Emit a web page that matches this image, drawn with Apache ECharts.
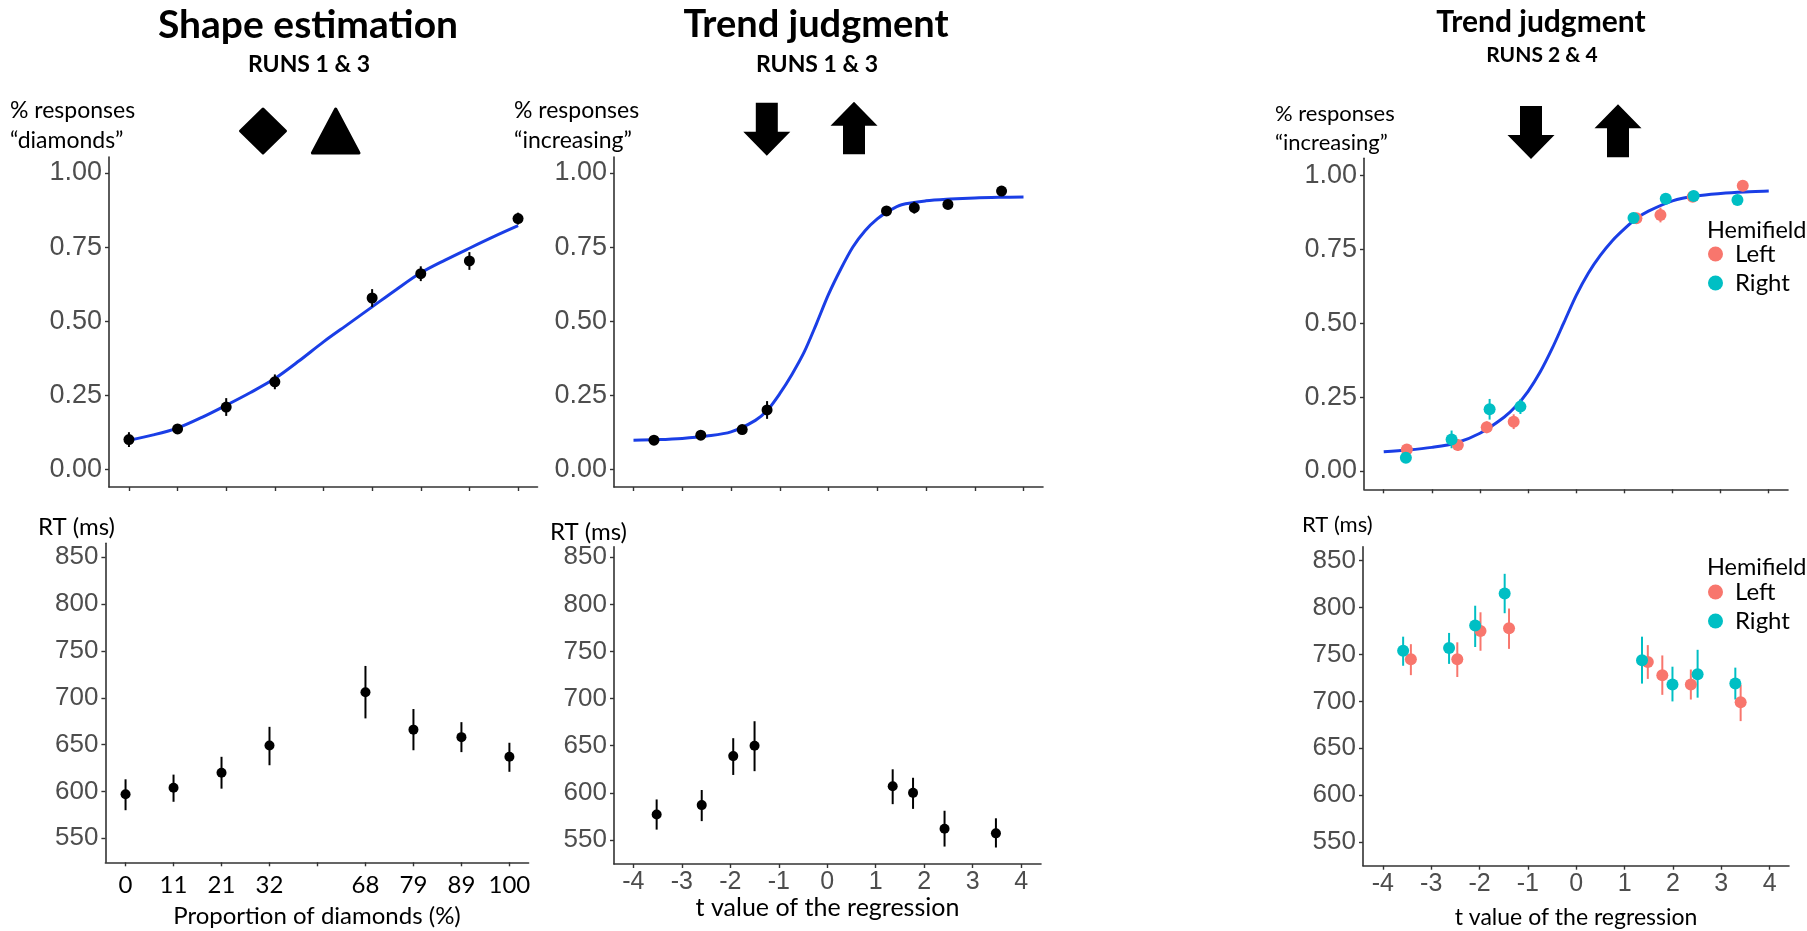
<!DOCTYPE html>
<html>
<head>
<meta charset="utf-8">
<script src="https://cdn.jsdelivr.net/npm/echarts@6.0.0/dist/echarts.min.js"></script>
<style>
html,body{margin:0;padding:0;background:#fff;}
#chart{width:1807px;height:931px;}
</style>
</head>
<body>
<div id="chart"></div>
<script>
// ---------- DATA ----------
// Panel 1: Shape estimation (runs 1 & 3)
const shapeCats = ['0', '11', '21', '32', '', '68', '79', '89', '100'];
const shapeIdx = [0, 1, 2, 3, 5, 6, 7, 8];
const shapeProp = [0.100, 0.136, 0.210, 0.295, 0.578, 0.660, 0.703, 0.846];
const shapePropErr = [0.025, 0.012, 0.030, 0.025, 0.030, 0.025, 0.030, 0.020];
const shapeFitX = [0, 0.5, 1, 1.5, 2, 2.5, 3, 3.5, 4, 4.5, 5, 5.5, 6, 6.5, 7, 7.5, 8];
const shapeFitY = [0.098, 0.116, 0.139, 0.175, 0.216, 0.259, 0.306, 0.366, 0.430, 0.489, 0.548, 0.607, 0.663, 0.706, 0.746, 0.785, 0.822];
const shapeRT = [597, 604, 620, 649, 706, 666, 658, 637];
const shapeRTLow = [580, 589, 603, 628, 678, 644, 642, 621];
const shapeRTHigh = [613, 618, 637, 669, 734, 688, 674, 652];

// Panel 2: Trend judgment (runs 1 & 3)
const trendPropT = [-3.58, -2.62, -1.77, -1.26, 1.19, 1.76, 2.45, 3.55];
const trendProp = [0.098, 0.115, 0.134, 0.200, 0.872, 0.883, 0.894, 0.939];
const trendPropErr = [0.010, 0.015, 0.012, 0.030, 0.015, 0.020, 0.012, 0.012];
const trendFitX = [-4, -3.5, -3, -2.5, -2, -1.5, -1.25, -1, -0.75, -0.5, -0.25, 0, 0.25, 0.5, 0.75, 1, 1.25, 1.5, 2, 2.5, 3, 3.5, 4];
const trendFitY = [0.098, 0.100, 0.104, 0.112, 0.126, 0.165, 0.200, 0.255, 0.320, 0.395, 0.490, 0.590, 0.675, 0.750, 0.805, 0.845, 0.873, 0.893, 0.906, 0.912, 0.916, 0.918, 0.919];
const trendRTT = [-3.52, -2.59, -1.94, -1.50, 1.35, 1.77, 2.42, 3.48];
const trendRT = [577, 587, 639, 650, 607, 600, 562, 557];
const trendRTLow = [561, 570, 619, 623, 588, 583, 543, 542];
const trendRTHigh = [593, 603, 658, 676, 625, 616, 581, 573];

// Panel 3: Trend judgment (runs 2 & 4), by hemifield
const hemiFitX = [-4, -3.5, -3, -2.5, -2, -1.5, -1.25, -1, -0.75, -0.5, -0.25, 0, 0.25, 0.5, 0.75, 1, 1.25, 1.5, 2, 2.5, 3, 3.5, 4];
const hemiFitY = [0.065, 0.071, 0.080, 0.095, 0.128, 0.182, 0.220, 0.270, 0.335, 0.415, 0.505, 0.595, 0.670, 0.730, 0.780, 0.820, 0.855, 0.880, 0.915, 0.932, 0.940, 0.945, 0.948];
const leftPropT = [-3.52, -2.46, -1.86, -1.30, 1.25, 1.75, 2.42, 3.46];
const leftProp = [0.073, 0.088, 0.148, 0.167, 0.856, 0.867, 0.929, 0.966];
const leftPropErr = [0.012, 0.020, 0.020, 0.025, 0.012, 0.025, 0.012, 0.010];
const rightPropT = [-3.54, -2.59, -1.80, -1.16, 1.19, 1.86, 2.44, 3.35];
const rightProp = [0.045, 0.107, 0.209, 0.218, 0.857, 0.922, 0.931, 0.918];
const rightPropErr = [0.012, 0.030, 0.035, 0.025, 0.015, 0.012, 0.012, 0.012];
const leftRTT = [-3.42, -2.46, -1.98, -1.39, 1.48, 1.78, 2.37, 3.40];
const leftRT = [745, 745, 775, 778, 742, 728, 718, 699];
const leftRTLow = [728, 726, 754, 756, 724, 707, 702, 679];
const leftRTHigh = [761, 763, 795, 799, 760, 749, 734, 718];
const rightRTT = [-3.58, -2.63, -2.09, -1.48, 1.36, 1.99, 2.51, 3.29];
const rightRT = [754, 757, 781, 815, 744, 718, 729, 719];
const rightRTLow = [738, 740, 758, 794, 719, 700, 704, 702];
const rightRTHigh = [769, 773, 802, 836, 769, 737, 755, 736];

// Tick labels
const propTicks = [0, 0.25, 0.5, 0.75, 1];
const rtTicks = [550, 600, 650, 700, 750, 800, 850];
const tTicks = [-4, -3, -2, -1, 0, 1, 2, 3, 4];
const shapeTicks = [0, 1, 2, 3, 4, 5, 6, 7, 8];
const hemiNames = ['Left', 'Right'];

// ---------- STYLE ----------
const BLUE = '#1a3ee6';
const RED = '#F8766D';
const TEAL = '#00BFC4';
const AX = '#333333';
const TXT = 'Lato';
const NUM = 'Liberation Sans';

const zip = (a, b) => a.map((v, i) => [v, b[i]]);
const zip3 = (a, b, c) => a.map((v, i) => [v, b[i], c[i]]);
const minus = (a, e) => a.map((v, i) => +(v - e[i]).toFixed(4));
const plus = (a, e) => a.map((v, i) => +(v + e[i]).toFixed(4));

function xAxisDef(gi, min, max, ticks, labelOpt) {
  return {
    type: 'value', gridIndex: gi, min: min, max: max,
    splitLine: {show: false},
    axisLine: {show: true, onZero: false, lineStyle: {color: AX, width: 1.6}},
    axisTick: {show: true, length: 4, customValues: ticks, lineStyle: {color: AX, width: 1.4}},
    axisLabel: labelOpt ? Object.assign({customValues: ticks}, labelOpt) : {show: false}
  };
}
function yAxisDef(gi, min, max, ticks, fmt, fs) {
  return {
    type: 'value', gridIndex: gi, min: min, max: max,
    splitLine: {show: false},
    axisLine: {show: true, onZero: false, lineStyle: {color: AX, width: 1.6}},
    axisTick: {show: true, length: 4, customValues: ticks, lineStyle: {color: AX, width: 1.4}},
    axisLabel: {customValues: ticks, formatter: fmt, fontFamily: NUM, fontSize: fs, color: '#4d4d4d', margin: 7}
  };
}
function errSeries(name, xi, data, color, w) {
  return {
    name: name, type: 'custom', xAxisIndex: xi, yAxisIndex: xi, z: 3,
    encode: {x: 0, y: [1, 2]},
    data: data,
    renderItem: function (params, api) {
      const p1 = api.coord([api.value(0), api.value(1)]);
      const p2 = api.coord([api.value(0), api.value(2)]);
      return {type: 'line', shape: {x1: p1[0], y1: p1[1], x2: p2[0], y2: p2[1]},
        style: {stroke: color, lineWidth: w}};
    },
    silent: true
  };
}
function dotSeries(name, xi, data, color, size) {
  return {name: name, type: 'scatter', xAxisIndex: xi, yAxisIndex: xi, z: 4,
    data: data, symbol: 'circle', symbolSize: size, itemStyle: {color: color, opacity: 1}};
}
function fitSeries(xi, data) {
  return {name: 'fit' + xi, type: 'line', xAxisIndex: xi, yAxisIndex: xi, z: 2,
    data: data, smooth: 0.3, showSymbol: false, symbol: 'none',
    lineStyle: {color: BLUE, width: 3}};
}

const fmt2 = v => v.toFixed(2);
const fmt0 = v => String(v);
const tLabel = {fontFamily: NUM, fontSize: 25, color: '#4d4d4d', margin: 6};

const option = {
  animation: false,
  backgroundColor: '#ffffff',
  title: [
    {text: 'Shape estimation', left: 308, top: 3, textAlign: 'center', padding: 0,
      textStyle: {fontFamily: TXT, fontWeight: 'bold', fontSize: 39, lineHeight: 44, color: '#000'}},
    {text: 'RUNS 1 & 3', left: 309, top: 52, textAlign: 'center', padding: 0,
      textStyle: {fontFamily: TXT, fontWeight: 'bold', fontSize: 23, lineHeight: 26, color: '#000'}},
    {text: 'Trend judgment', left: 816, top: 3, textAlign: 'center', padding: 0,
      textStyle: {fontFamily: TXT, fontWeight: 'bold', fontSize: 38, lineHeight: 44, color: '#000'}},
    {text: 'RUNS 1 & 3', left: 817, top: 52, textAlign: 'center', padding: 0,
      textStyle: {fontFamily: TXT, fontWeight: 'bold', fontSize: 23, lineHeight: 26, color: '#000'}},
    {text: 'Trend judgment', left: 1541, top: 4, textAlign: 'center', padding: 0,
      textStyle: {fontFamily: TXT, fontWeight: 'bold', fontSize: 30, lineHeight: 36, color: '#000'}},
    {text: 'RUNS 2 & 4', left: 1542, top: 43, textAlign: 'center', padding: 0,
      textStyle: {fontFamily: TXT, fontWeight: 'bold', fontSize: 21, lineHeight: 24, color: '#000'}}
  ],
  legend: [
    {data: hemiNames, orient: 'vertical', left: 1708, top: 242, padding: 0, itemGap: 5,
      icon: 'circle', itemWidth: 15, itemHeight: 15, selectedMode: false,
      textStyle: {fontFamily: TXT, fontSize: 24, lineHeight: 24, color: '#000', padding: [0, 0, 0, 7]}},
    {data: hemiNames, orient: 'vertical', left: 1708, top: 580, padding: 0, itemGap: 5,
      icon: 'circle', itemWidth: 15, itemHeight: 15, selectedMode: false,
      textStyle: {fontFamily: TXT, fontSize: 24, lineHeight: 24, color: '#000', padding: [0, 0, 0, 7]}}
  ],
  grid: [
    {left: 109, top: 157, width: 428.5, height: 330, outerBoundsMode: 'none'},
    {left: 614, top: 157, width: 429, height: 330, outerBoundsMode: 'none'},
    {left: 1364, top: 158.3, width: 424, height: 331, outerBoundsMode: 'none'},
    {left: 105.4, top: 543.3, width: 423.2, height: 319, outerBoundsMode: 'none'},
    {left: 614, top: 546.7, width: 427, height: 317.3, outerBoundsMode: 'none'},
    {left: 1363, top: 546.7, width: 426, height: 319, outerBoundsMode: 'none'}
  ],
  xAxis: [
    xAxisDef(0, -0.41, 8.4, shapeTicks, null),
    xAxisDef(1, -4.4, 4.4, tTicks, null),
    xAxisDef(2, -4.41, 4.4, tTicks, null),
    Object.assign(xAxisDef(3, -0.42, 8.4, shapeTicks,
      {formatter: v => shapeCats[Math.round(v)], fontFamily: TXT, fontSize: 24, color: '#000', margin: 11}),
      {name: 'Proportion of diamonds (%)', nameLocation: 'middle', nameGap: 42,
        nameTextStyle: {fontFamily: TXT, fontSize: 24, color: '#000'}}),
    Object.assign(xAxisDef(4, -4.4, 4.41, tTicks, tLabel),
      {name: 't value of the regression', nameLocation: 'middle', nameGap: 31,
        nameTextStyle: {fontFamily: TXT, fontSize: 25, color: '#000'}}),
    Object.assign(xAxisDef(5, -4.41, 4.4, tTicks, tLabel),
      {name: 't value of the regression', nameLocation: 'middle', nameGap: 40,
        nameTextStyle: {fontFamily: TXT, fontSize: 23, color: '#000'}})
  ],
  yAxis: [
    yAxisDef(0, -0.06, 1.054, propTicks, fmt2, 27),
    yAxisDef(1, -0.06, 1.054, propTicks, fmt2, 27),
    yAxisDef(2, -0.062, 1.059, propTicks, fmt2, 27),
    yAxisDef(3, 524.4, 864.9, rtTicks, fmt0, 26),
    yAxisDef(4, 524.5, 861.2, rtTicks, fmt0, 26),
    yAxisDef(5, 524.9, 864.9, rtTicks, fmt0, 26)
  ],
  series: [
    // panel 1 top
    fitSeries(0, zip(shapeFitX, shapeFitY)),
    errSeries('shapePropSE', 0, zip3(shapeIdx, minus(shapeProp, shapePropErr), plus(shapeProp, shapePropErr)), '#000', 2),
    dotSeries('shapeProp', 0, zip(shapeIdx, shapeProp), '#000', 11),
    // panel 2 top
    fitSeries(1, zip(trendFitX, trendFitY)),
    errSeries('trendPropSE', 1, zip3(trendPropT, minus(trendProp, trendPropErr), plus(trendProp, trendPropErr)), '#000', 2),
    dotSeries('trendProp', 1, zip(trendPropT, trendProp), '#000', 11),
    // panel 3 top
    fitSeries(2, zip(hemiFitX, hemiFitY)),
    errSeries('LeftPropSE', 2, zip3(leftPropT, minus(leftProp, leftPropErr), plus(leftProp, leftPropErr)), RED, 2),
    errSeries('RightPropSE', 2, zip3(rightPropT, minus(rightProp, rightPropErr), plus(rightProp, rightPropErr)), TEAL, 2),
    dotSeries('Left', 2, zip(leftPropT, leftProp), RED, 12),
    dotSeries('Right', 2, zip(rightPropT, rightProp), TEAL, 12),
    // panel 1 bottom
    errSeries('shapeRTSE', 3, zip3(shapeIdx, shapeRTLow, shapeRTHigh), '#000', 2),
    dotSeries('shapeRT', 3, zip(shapeIdx, shapeRT), '#000', 10),
    // panel 2 bottom
    errSeries('trendRTSE', 4, zip3(trendRTT, trendRTLow, trendRTHigh), '#000', 2),
    dotSeries('trendRT', 4, zip(trendRTT, trendRT), '#000', 10),
    // panel 3 bottom
    errSeries('LeftRTSE', 5, zip3(leftRTT, leftRTLow, leftRTHigh), RED, 2),
    errSeries('RightRTSE', 5, zip3(rightRTT, rightRTLow, rightRTHigh), TEAL, 2),
    dotSeries('Left', 5, zip(leftRTT, leftRT), RED, 12),
    dotSeries('Right', 5, zip(rightRTT, rightRT), TEAL, 12)
  ],
  graphic: [
    // y-axis captions
    {type: 'text', left: 10, top: 96, style: {text: '% responses\n\u201cdiamonds\u201d', font: '23px Lato', lineHeight: 30, fill: '#000'}},
    {type: 'text', left: 514, top: 96, style: {text: '% responses\n\u201cincreasing\u201d', font: '23px Lato', lineHeight: 30, fill: '#000'}},
    {type: 'text', left: 1275, top: 99, style: {text: '% responses\n\u201cincreasing\u201d', font: '22px Lato', lineHeight: 29, fill: '#000'}},
    {type: 'text', left: 38, top: 512, style: {text: 'RT (ms)', font: '24px Lato', lineHeight: 30, fill: '#000'}},
    {type: 'text', left: 550, top: 517, style: {text: 'RT (ms)', font: '24px Lato', lineHeight: 30, fill: '#000'}},
    {type: 'text', left: 1302, top: 511, style: {text: 'RT (ms)', font: '22px Lato', lineHeight: 28, fill: '#000'}},
    // legend titles
    {type: 'text', left: 1707, top: 216, style: {text: 'Hemifield', font: '23.5px Lato', lineHeight: 28, fill: '#000'}},
    {type: 'text', left: 1707, top: 553, style: {text: 'Hemifield', font: '23.5px Lato', lineHeight: 28, fill: '#000'}},
    // shape icons
    {type: 'polygon', shape: {points: [[263, 109], [285.5, 131], [263, 153], [240.5, 131]]},
      style: {fill: '#000', stroke: '#000', lineWidth: 3, lineJoin: 'round'}},
    {type: 'polygon', shape: {points: [[335.7, 109], [359, 153], [312.4, 153]]},
      style: {fill: '#000', stroke: '#000', lineWidth: 3, lineJoin: 'round'}},
    // arrows panel 2
    {type: 'polygon', shape: {points: [[755.8, 102.7], [777.8, 102.7], [777.8, 131.7], [790.3, 131.7], [766.8, 155.7], [743.3, 131.7], [755.8, 131.7]]},
      style: {fill: '#000'}},
    {type: 'polygon', shape: {points: [[854, 101.7], [877.5, 125.7], [865, 125.7], [865, 154.3], [843, 154.3], [843, 125.7], [830.5, 125.7]]},
      style: {fill: '#000'}},
    // arrows panel 3
    {type: 'polygon', shape: {points: [[1520, 106], [1542, 106], [1542, 135], [1554.5, 135], [1531, 159], [1507.5, 135], [1520, 135]]},
      style: {fill: '#000'}},
    {type: 'polygon', shape: {points: [[1618, 104.3], [1641.5, 128.3], [1629, 128.3], [1629, 157.3], [1607, 157.3], [1607, 128.3], [1594.5, 128.3]]},
      style: {fill: '#000'}}
  ]
};

const chart = echarts.init(document.getElementById('chart'), null, {renderer: 'canvas'});
chart.setOption(option);
</script>
</body>
</html>
